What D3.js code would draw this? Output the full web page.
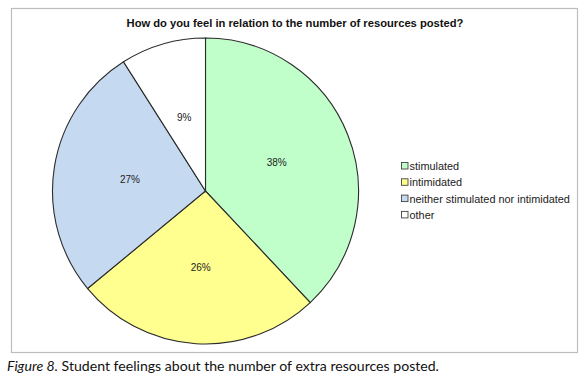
<!DOCTYPE html>
<html>
<head>
<meta charset="utf-8">
<script src="https://cdn.jsdelivr.net/npm/d3@7"></script>
<style>
  body { margin: 0; background: #fff; }
  svg { display: block; }
</style>
</head>
<body>
<div id="chart"></div>
<script>
//************* data ***************/
var categories = ["stimulated", "intimidated", "neither stimulated nor intimidated", "other"];
var percents = [38, 26, 27, 9];
var sliceColors = ["#c0ffca", "#ffff90", "#c5d9f1", "#ffffff"];
var chartTitle = "How do you feel in relation to the number of resources posted?";

//************* setup svg ***************/
var width = 586, height = 377;
var svg = d3.select("#chart")
  .append("svg")
    .attr("width", width)
    .attr("height", height);

// frame
svg.append("rect")
  .attr("x", 11.5)
  .attr("y", 8.5)
  .attr("width", 566)
  .attr("height", 344)
  .attr("fill", "#fff")
  .attr("stroke", "#bdbdbd")
  .attr("stroke-width", 1.2);

// title
svg.append("text")
  .attr("x", 295)
  .attr("y", 26.5)
  .attr("text-anchor", "middle")
  .attr("font-family", "Liberation Sans, Arial, sans-serif")
  .attr("font-weight", "bold")
  .attr("font-size", "11.2px")
  .attr("fill", "#111")
  .text(chartTitle);

//************* pie ***************/
var radius = 153;
var color = d3.scaleOrdinal().domain(categories).range(sliceColors);

var pie = d3.pie().sort(null).value(function(d, i){ return percents[i]; });
var arc = d3.arc().innerRadius(0).outerRadius(radius);
var labelArc = d3.arc().innerRadius(radius * 0.5).outerRadius(radius * 0.5);

var g = svg.append("g")
  .attr("transform", "translate(205.5,191)");

var arcs = pie(categories);

g.selectAll("path.slice")
  .data(arcs)
  .enter()
  .append("path")
    .attr("class", "slice")
    .attr("d", arc)
    .attr("fill", function(d){ return color(d.data); })
    .attr("stroke", "#2b2b2b")
    .attr("stroke-width", 1.1);

g.selectAll("text.lbl")
  .data(arcs)
  .enter()
  .append("text")
    .attr("class", "lbl")
    .attr("transform", function(d){ return "translate(" + labelArc.centroid(d) + ")"; })
    .attr("text-anchor", "middle")
    .attr("dy", "0.35em")
    .attr("font-family", "Liberation Sans, Arial, sans-serif")
    .attr("font-size", "10px")
    .attr("fill", "#222")
    .text(function(d, i){ return percents[i] + "%"; });

//************* legend ***************/
var legend = svg.append("g")
  .attr("transform", "translate(401,162)");

categories.forEach(function(c, i){
  var row = legend.append("g")
    .attr("transform", "translate(0," + (i * 16.3) + ")");
  row.append("rect")
    .attr("x", 0.5)
    .attr("y", 0.5)
    .attr("width", 6.5)
    .attr("height", 6.5)
    .attr("fill", color(c))
    .attr("stroke", "#444")
    .attr("stroke-width", 0.9);
  row.append("text")
    .attr("x", 8.5)
    .attr("y", 8)
    .attr("font-family", "Liberation Sans, Arial, sans-serif")
    .attr("font-size", "10.9px")
    .attr("fill", "#222")
    .text(c);
});

//************* caption ***************/
var cap = svg.append("text")
  .attr("x", 7)
  .attr("y", 371)
  .attr("font-family", "Lato, 'Open Sans', sans-serif")
  .attr("font-size", "14.1px")
  .attr("fill", "#111");
cap.append("tspan").attr("font-style", "italic").text("Figure 8.");
cap.append("tspan").text(" Student feelings about the number of extra resources posted.");
</script>
</body>
</html>
